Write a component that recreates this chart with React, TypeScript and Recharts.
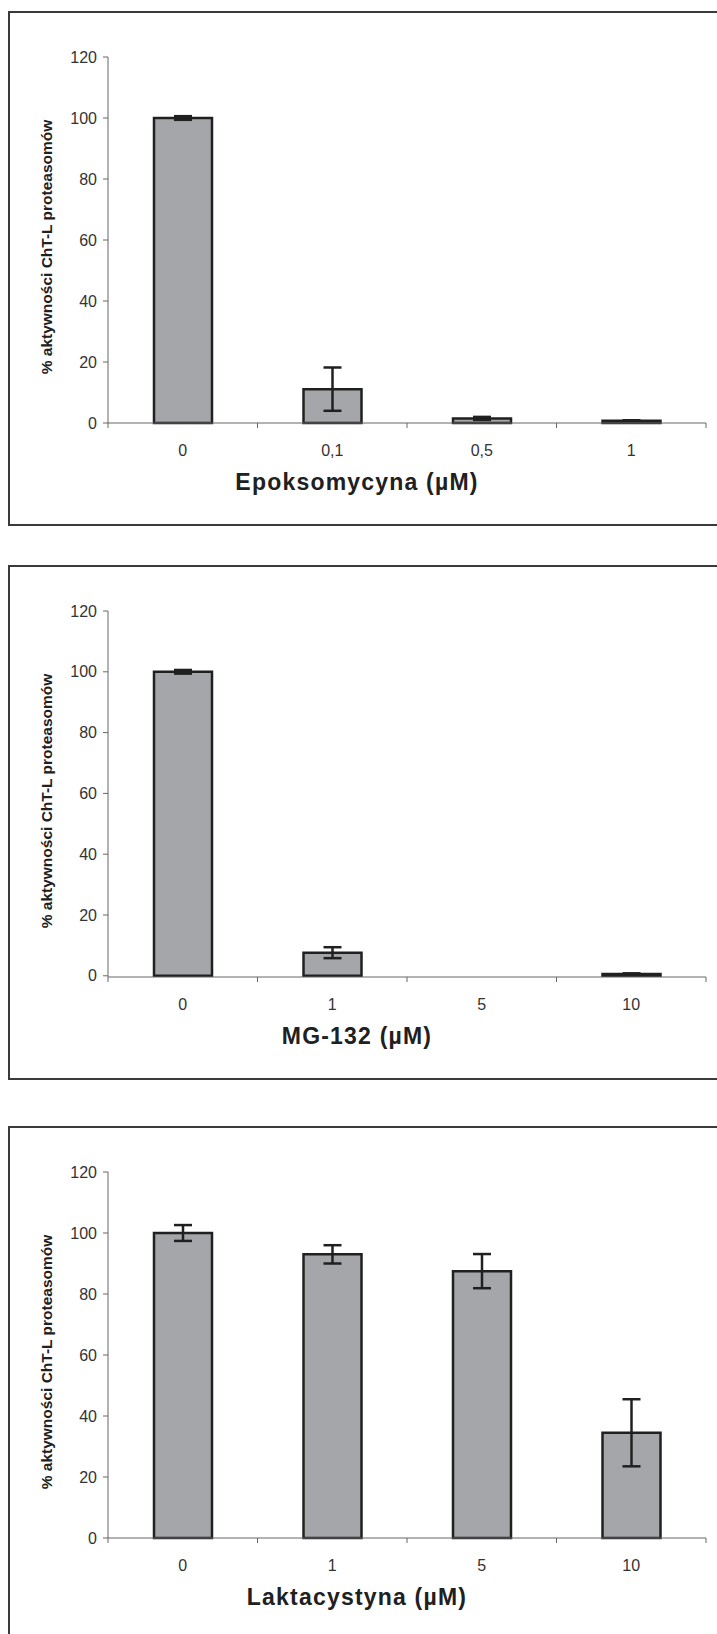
import React from 'react';
import { BarChart, Bar, XAxis, YAxis, ErrorBar } from 'recharts';

// Epoksomycyna panel
const epoDoses = ['0', '0,1', '0,5', '1'];
const epoActivity = [100, 11.1, 1.5, 0.7];
const epoError = [0.6, 7.1, 0.5, 0.2];

// MG-132 panel
const mgDoses = ['0', '1', '5', '10'];
const mgActivity = [100, 7.6, 0, 0.6];
const mgError = [0.6, 1.8, 0.4, 0.2];

// Laktacystyna panel
const laktaDoses = ['0', '1', '5', '10'];
const laktaActivity = [100, 93, 87.5, 34.5];
const laktaError = [2.6, 3.0, 5.6, 11];

const yTicks = [0, 20, 40, 60, 80, 100, 120];
const yLabel = '% aktywności ChT-L proteasomów';

const FONT = '"Liberation Sans", Arial, sans-serif';
const AXIS_COLOR = '#666';
const BAR_FILL = '#a5a6aa';
const INK = '#202020';

// layout of one panel
const CHART_W = 717;
const PANEL_H = 515;
const MARGIN_L = 8;
const Y_AXIS_W = 100;
const MARGIN_R = 11;
const PLOT_TOP = 46;
const PLOT_BOTTOM = 412;
const X_AXIS_H = 40;
const PLOT_W = CHART_W - MARGIN_L - Y_AXIS_W - MARGIN_R;
const TICK_LEN = 5;
const X_TICK_GAP = 17;

type Panel = {
  top: number;
  title: string;
  doses: string[];
  activity: number[];
  error: number[];
};

const panels: Panel[] = [
  { top: 11, title: 'Epoksomycyna (µM)', doses: epoDoses, activity: epoActivity, error: epoError },
  { top: 565, title: 'MG-132 (µM)', doses: mgDoses, activity: mgActivity, error: mgError },
  { top: 1126, title: 'Laktacystyna (µM)', doses: laktaDoses, activity: laktaActivity, error: laktaError },
];

// category label with tick marks on the category boundaries
function DoseTick(props: any) {
  const { x, y, payload, index, count } = props;
  const half = PLOT_W / (2 * count);
  const axisY = y - TICK_LEN - X_TICK_GAP;
  return (
    <g>
      <line x1={x - half} x2={x - half} y1={axisY} y2={axisY + TICK_LEN} stroke={AXIS_COLOR} strokeWidth={1} />
      {index === count - 1 && (
        <line x1={x + half} x2={x + half} y1={axisY} y2={axisY + TICK_LEN} stroke={AXIS_COLOR} strokeWidth={1} />
      )}
      <text x={x} y={y} dy="0.71em" textAnchor="middle" fill="#333" fontSize={16} fontFamily={FONT}>
        {payload.value}
      </text>
    </g>
  );
}

function DosePanel({ panel }: { panel: Panel }) {
  const data = panel.doses.map((dose, i) => ({
    dose,
    value: panel.activity[i],
    err: panel.error[i],
  }));
  const count = panel.doses.length;
  return (
    <>
      <div
        style={{
          position: 'absolute',
          left: 8,
          top: panel.top,
          width: 720,
          height: PANEL_H,
          boxSizing: 'border-box',
          border: '2px solid #3a3a3a',
        }}
      />
      <div style={{ position: 'absolute', left: 0, top: panel.top }}>
        <BarChart
          width={CHART_W}
          height={PANEL_H}
          data={data}
          margin={{ top: PLOT_TOP, right: MARGIN_R, left: MARGIN_L, bottom: PANEL_H - PLOT_BOTTOM - X_AXIS_H }}
        >
          <XAxis
            dataKey="dose"
            height={X_AXIS_H}
            axisLine={{ stroke: AXIS_COLOR, strokeWidth: 1 }}
            tickLine={false}
            tickSize={TICK_LEN}
            tickMargin={X_TICK_GAP}
            interval={0}
            tick={(p: any) => <DoseTick {...p} count={count} />}
          />
          <YAxis
            width={Y_AXIS_W}
            domain={[0, 120]}
            ticks={yTicks}
            interval={0}
            axisLine={{ stroke: AXIS_COLOR, strokeWidth: 1 }}
            tickLine={{ stroke: AXIS_COLOR, strokeWidth: 1 }}
            tickSize={TICK_LEN}
            tickMargin={6}
            tick={{ fill: '#333', fontSize: 16, fontFamily: FONT }}
          />
          <Bar
            dataKey="value"
            fill={BAR_FILL}
            stroke={INK}
            strokeWidth={2.5}
            barSize={58}
            isAnimationActive={false}
          >
            <ErrorBar dataKey="err" width={9} stroke={INK} strokeWidth={2.5} direction="y" isAnimationActive={false} />
          </Bar>
        </BarChart>
      </div>
      <div
        style={{
          position: 'absolute',
          left: 47,
          top: panel.top + 236,
          transform: 'translate(-50%, -50%) rotate(-90deg)',
          whiteSpace: 'nowrap',
          fontFamily: FONT,
          fontWeight: 'bold',
          fontSize: 15.5,
          color: INK,
        }}
      >
        {yLabel}
      </div>
      <div
        style={{
          position: 'absolute',
          left: 357,
          top: panel.top + 471,
          transform: 'translate(-50%, -50%)',
          whiteSpace: 'nowrap',
          fontFamily: FONT,
          fontWeight: 'bold',
          fontSize: 23,
          letterSpacing: 1.2,
          color: INK,
        }}
      >
        {panel.title}
      </div>
    </>
  );
}

export default function App() {
  return (
    <div
      style={{
        position: 'fixed',
        left: 0,
        top: 0,
        width: 717,
        height: 1634,
        overflow: 'hidden',
        background: '#fff',
      }}
    >
      {panels.map((p) => (
        <DosePanel key={p.title} panel={p} />
      ))}
    </div>
  );
}
